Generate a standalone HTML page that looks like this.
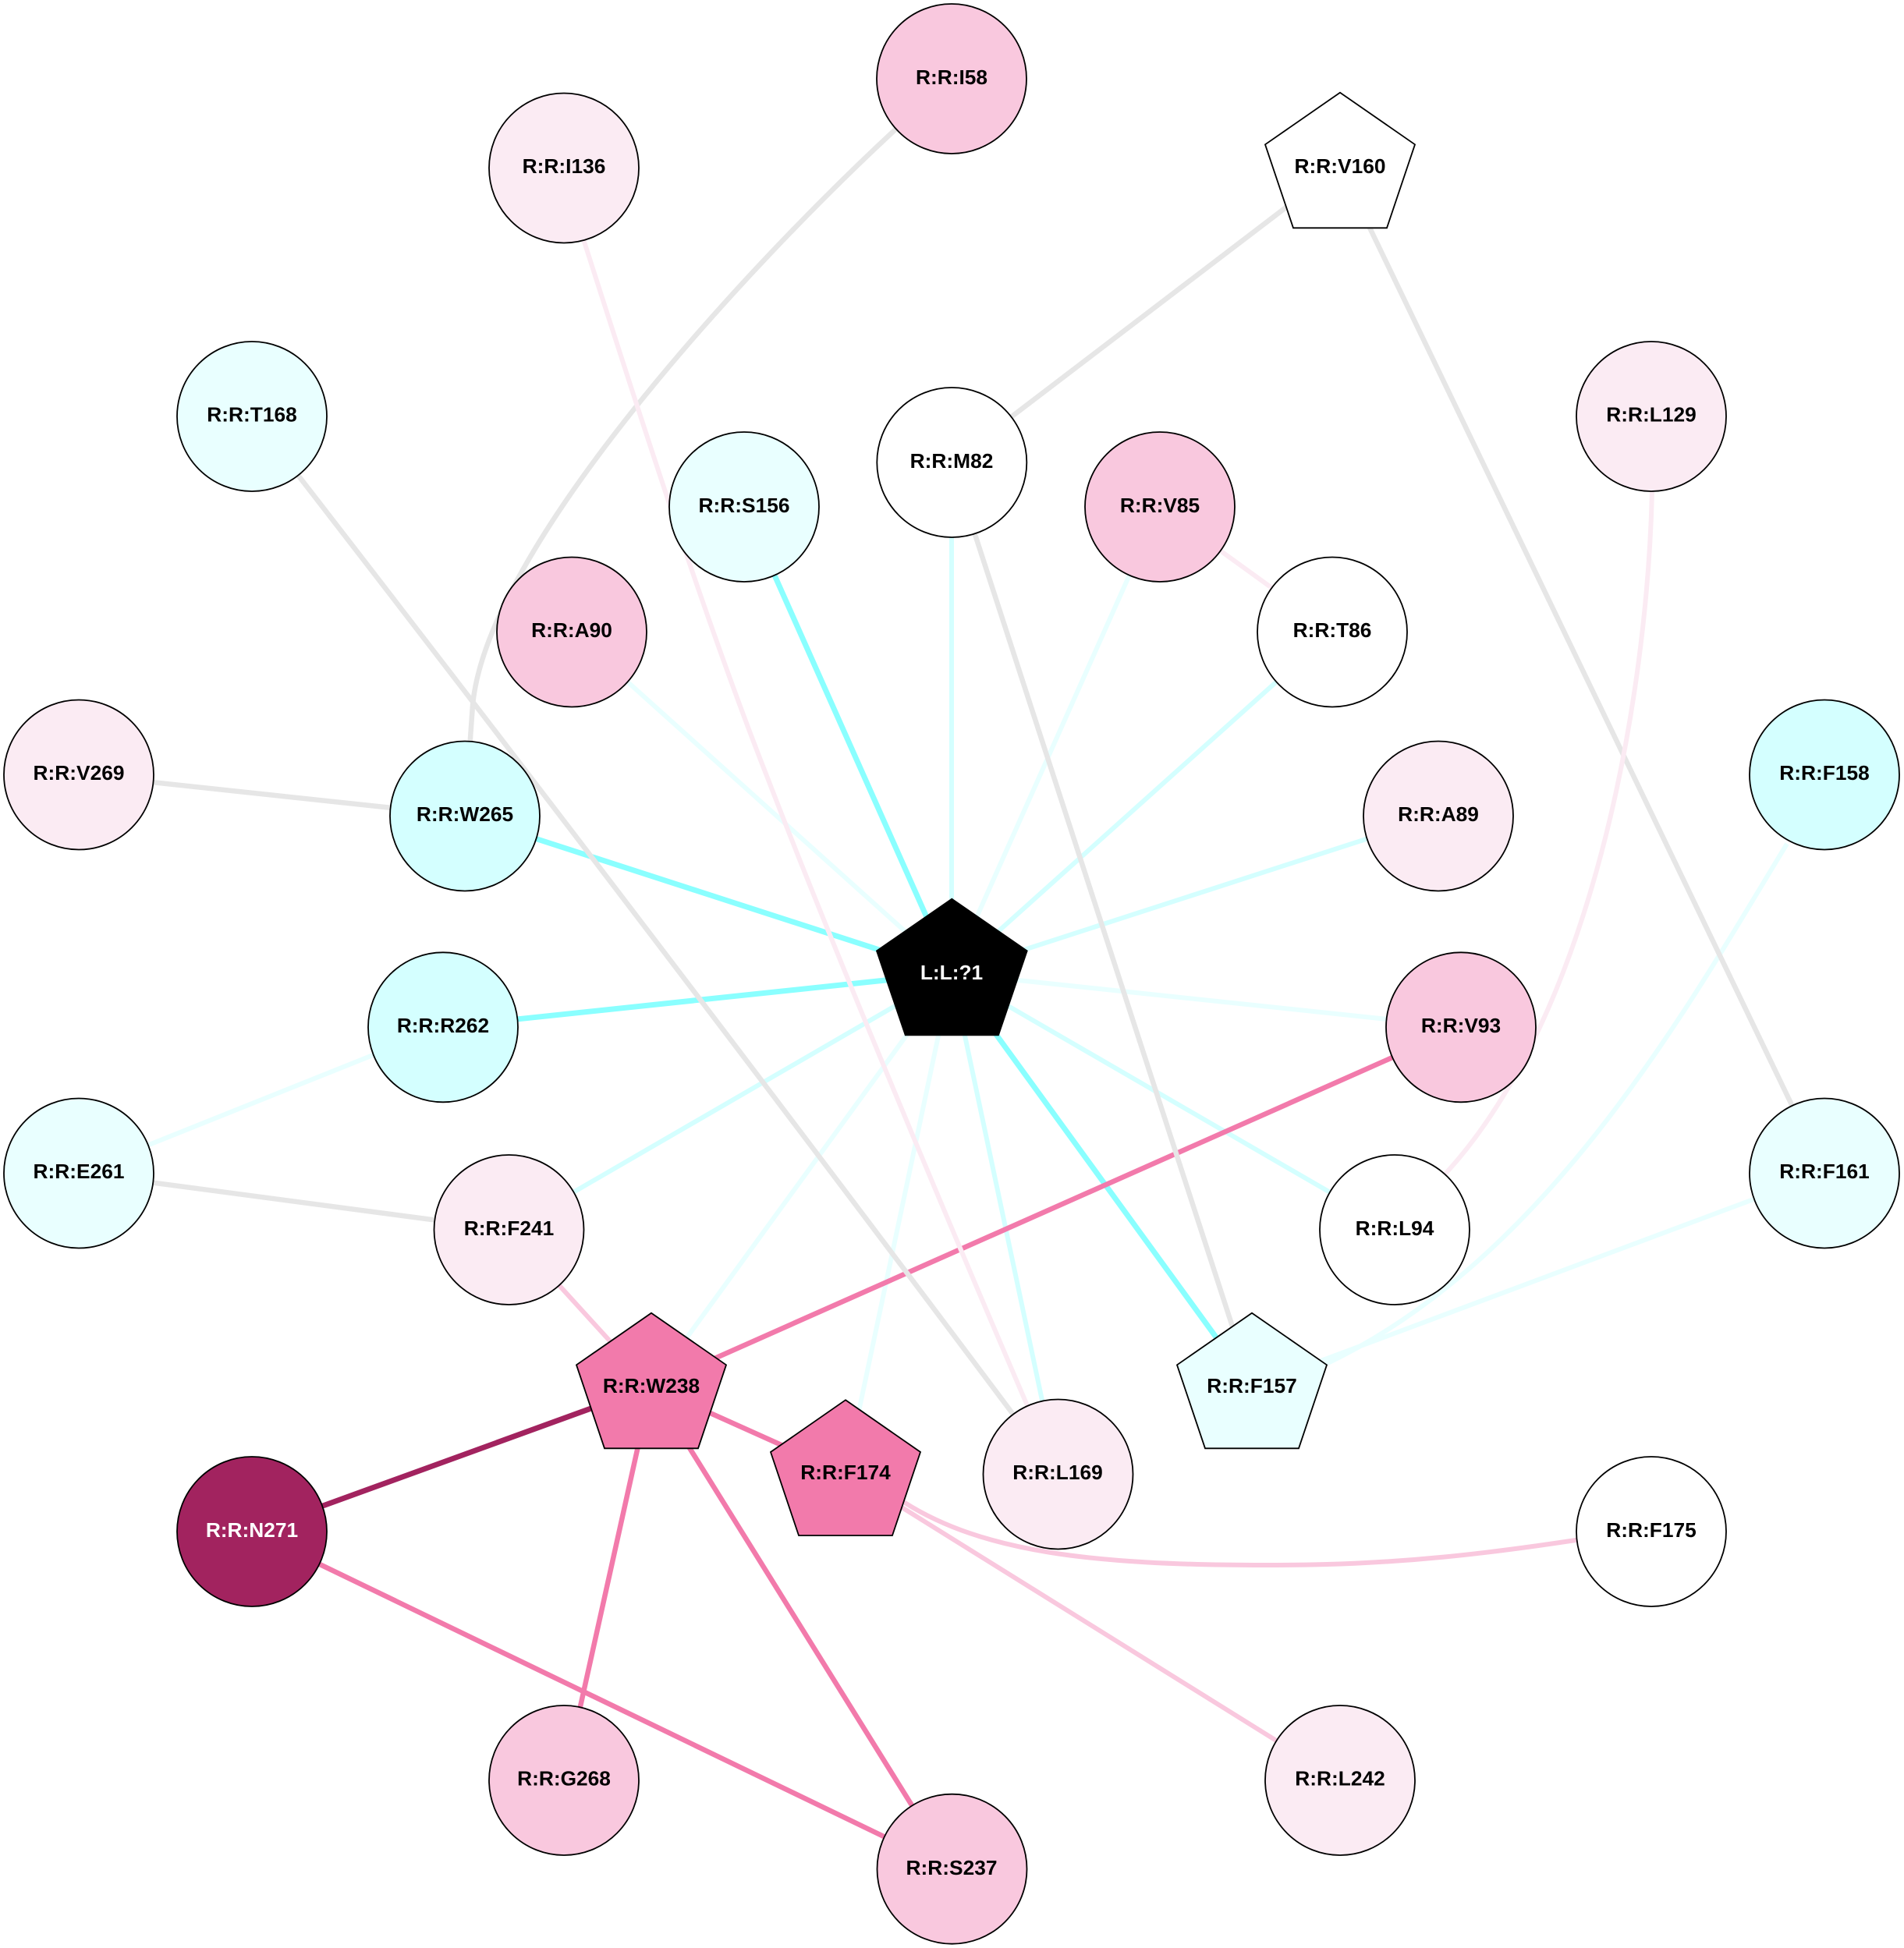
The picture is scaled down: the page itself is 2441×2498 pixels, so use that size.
<!DOCTYPE html>
<html>
<head>
<meta charset="utf-8">
<style>
html,body{margin:0;padding:0;background:#fff;}
svg{display:block;}
text{font-family:"Liberation Sans",sans-serif;font-weight:bold;font-size:26.3px;text-anchor:middle;fill:#000;}
.n{stroke:#000;stroke-width:1.8;}
</style>
</head>
<body>
<svg width="2441" height="2498" viewBox="0 0 2441 2498" xmlns="http://www.w3.org/2000/svg">
<rect width="2441" height="2498" fill="#fff"/>
<!-- light cyan -->
<g fill="none" stroke="#E9FFFF" stroke-width="6">
<path d="M1487 650L1220 1248"/>
<path d="M733 810L1220 1248"/>
<path d="M1873 1317L1220 1248"/>
<path d="M835 1778L1220 1248"/>
<path d="M1084 1890L1220 1248"/>
<path d="M101 1504L568 1317"/>
<path d="M2339 1504L1605 1778"/>
<path d="M2291 1082C2170 1280 1990 1610 1702 1748L1605 1778"/>
</g>
<g fill="none" stroke="#D4FFFF" stroke-width="6">
<path d="M1220 593L1220 1248"/>
<path d="M1708 810L1220 1248"/>
<path d="M1844 1046L1220 1248"/>
<path d="M1788 1577L1220 1248"/>
<path d="M652 1577L1220 1248"/>
<path d="M1356 1890L1220 1248"/>
</g>
<g fill="none" stroke="#8AFFFF" stroke-width="7">
<path d="M954 650L1220 1248"/>
<path d="M596 1046L1220 1248"/>
<path d="M568 1317L1220 1248"/>
<path d="M1605 1778L1220 1248"/>
</g>
<!-- hot pink -->
<g fill="none" stroke="#F27AAB" stroke-width="6.5">
<path d="M1873 1317L835 1778"/>
<path d="M835 1778L1084 1890"/>
<path d="M835 1778L723 2283"/>
<path d="M835 1778L1220 2397"/>
<path d="M323 1964L1220 2397"/>
</g>
<path d="M323 1964L835 1778" fill="none" stroke="#A2235F" stroke-width="7"/>
<!-- grey -->
<g fill="none" stroke="#E6E6E6" stroke-width="6.5">
<path d="M1220 101L1148 166C960 340 625 700 606 904L596 1046"/>
<path d="M1718 213L1220 593"/>
<path d="M1718 213L2339 1504"/>
<path d="M1220 593L1605 1778"/>
<path d="M323 533Q844 1205 1356 1890"/>
<path d="M101 993L596 1046"/>
<path d="M101 1504L652 1577"/>
</g>
<!-- light pink -->
<g fill="none" stroke="#FBEBF3" stroke-width="6">
<path d="M1487 650L1708 810"/>
<path d="M723 215L749 310C810 500 900 785 985 1000C1060 1195 1200 1530 1316 1800L1356 1890"/>
<path d="M2118 533L2118 629C2112 900 2040 1300 1855 1503L1788 1577"/>
</g>
<g fill="none" stroke="#F9C8DE" stroke-width="6">
<path d="M652 1577L835 1778"/>
<path d="M1084 1890L1160 1927C1260 1990 1400 2007 1621 2007C1790 2007 1900 1995 2116 1960"/>
<path d="M1084 1888L1718 2283"/>
</g>
<!-- circle nodes -->
<g class="n">
<circle cx="1220" cy="101" r="96" fill="#F9C8DE"/>
<circle cx="723" cy="215.5" r="96" fill="#FBEBF3"/>
<circle cx="323" cy="534" r="96" fill="#E9FFFF"/>
<circle cx="2117" cy="534" r="96" fill="#FBEBF3"/>
<circle cx="954" cy="650" r="96" fill="#E9FFFF"/>
<circle cx="1220.3" cy="593" r="96" fill="#FFFFFF"/>
<circle cx="1487" cy="650" r="96" fill="#F9C8DE"/>
<circle cx="733" cy="810.5" r="96" fill="#F9C8DE"/>
<circle cx="1708" cy="810.5" r="96" fill="#FFFFFF"/>
<circle cx="101" cy="993.5" r="96" fill="#FBEBF3"/>
<circle cx="2339" cy="993.5" r="96" fill="#D4FFFF"/>
<circle cx="596" cy="1046.5" r="96" fill="#D4FFFF"/>
<circle cx="1844" cy="1046.5" r="96" fill="#FBEBF3"/>
<circle cx="568" cy="1317.3" r="96" fill="#D4FFFF"/>
<circle cx="1873" cy="1317.3" r="96" fill="#F9C8DE"/>
<circle cx="101" cy="1504.5" r="96" fill="#E9FFFF"/>
<circle cx="2339" cy="1504.5" r="96" fill="#E9FFFF"/>
<circle cx="652.5" cy="1577" r="96" fill="#FBEBF3"/>
<circle cx="1788" cy="1577" r="96" fill="#FFFFFF"/>
<circle cx="1356.5" cy="1890.5" r="96" fill="#FBEBF3"/>
<circle cx="323" cy="1964" r="96" fill="#A2235F"/>
<circle cx="2117" cy="1964" r="96" fill="#FFFFFF"/>
<circle cx="723" cy="2283" r="96" fill="#F9C8DE"/>
<circle cx="1718" cy="2283" r="96" fill="#FBEBF3"/>
<circle cx="1220.5" cy="2396.7" r="96" fill="#F9C8DE"/>
<!-- pentagons -->
<polygon points="1718,118.7 1814,185.3 1778,292.3 1658,292.3 1622,185.3" fill="#FFFFFF"/>
<polygon points="1220.3,1152.7 1316.7,1219.3 1280,1327.3 1160.7,1327.3 1124,1219.3" fill="#000000"/>
<polygon points="835,1683.7 931,1750.3 895,1857.3 775,1857.3 739,1750.3" fill="#F27AAB"/>
<polygon points="1605,1683.7 1701,1750.3 1665,1857.3 1545,1857.3 1509,1750.3" fill="#E9FFFF"/>
<polygon points="1084,1795.3 1180,1862 1144,1969 1024,1969 988,1862" fill="#F27AAB"/>
</g>
<!-- labels -->
<text x="1220" y="108">R:R:I58</text>
<text x="723" y="222">R:R:I136</text>
<text x="1718" y="222">R:R:V160</text>
<text x="323" y="540.5">R:R:T168</text>
<text x="2117" y="540.5">R:R:L129</text>
<text x="954" y="657">R:R:S156</text>
<text x="1220" y="600">R:R:M82</text>
<text x="1487" y="657">R:R:V85</text>
<text x="733" y="817">R:R:A90</text>
<text x="1708" y="817">R:R:T86</text>
<text x="101" y="1000">R:R:V269</text>
<text x="2339" y="1000">R:R:F158</text>
<text x="596" y="1053">R:R:W265</text>
<text x="1844" y="1053">R:R:A89</text>
<text x="1220" y="1256" style="fill:#fff">L:L:?1</text>
<text x="568" y="1324">R:R:R262</text>
<text x="1873" y="1324">R:R:V93</text>
<text x="101" y="1511">R:R:E261</text>
<text x="2339" y="1511">R:R:F161</text>
<text x="652.5" y="1584">R:R:F241</text>
<text x="1788" y="1584">R:R:L94</text>
<text x="835" y="1786">R:R:W238</text>
<text x="1605" y="1786">R:R:F157</text>
<text x="1084" y="1897">R:R:F174</text>
<text x="1356" y="1897">R:R:L169</text>
<text x="323" y="1971" style="fill:#fff">R:R:N271</text>
<text x="2117" y="1971">R:R:F175</text>
<text x="723" y="2289.5">R:R:G268</text>
<text x="1718" y="2289.5">R:R:L242</text>
<text x="1220" y="2404">R:R:S237</text>
</svg>
</body>
</html>
